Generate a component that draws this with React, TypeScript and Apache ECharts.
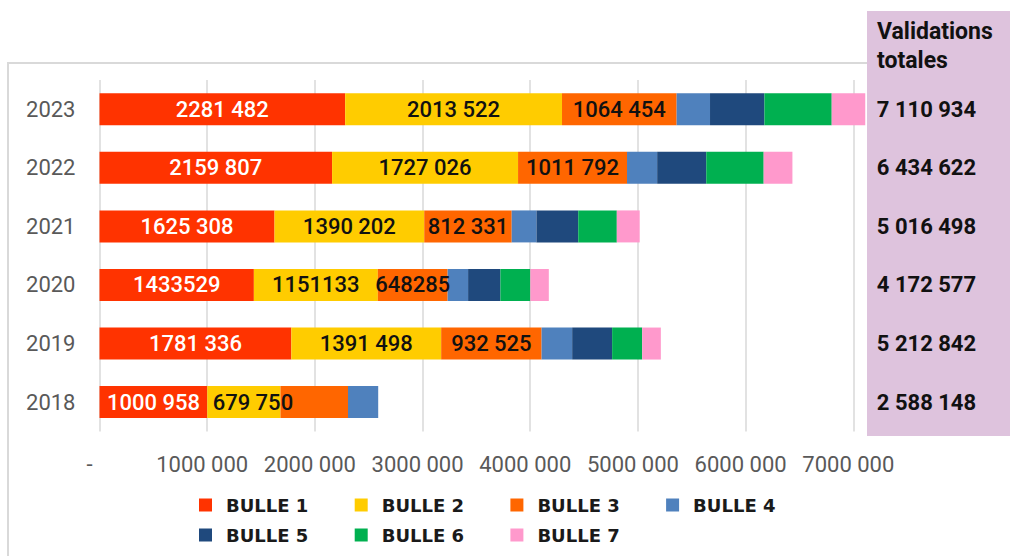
import React, { useEffect, useRef } from "react";
import * as echarts from "echarts";

const years = ["2018", "2019", "2020", "2021", "2022", "2023"];
const seriesNames = ["BULLE 1", "BULLE 2", "BULLE 3", "BULLE 4", "BULLE 5", "BULLE 6", "BULLE 7"];
const bulle1 = [1000958, 1781336, 1433529, 1625308, 2159807, 2281482];
const bulle2 = [679750, 1391498, 1151133, 1390202, 1727026, 2013522];
const bulle3 = [627000, 932525, 648285, 812331, 1011792, 1064454];
const bulle4 = [280440, 284000, 190000, 230000, 280000, 310000];
const bulle5 = [null, 371000, 300000, 388000, 456000, 505000];
const bulle6 = [null, 279000, 278000, 358000, 533000, 625000];
const bulle7 = [null, 173483, 171630, 212657, 266997, 311476];
const totals = [2588148, 5212842, 4172577, 5016498, 6434622, 7110934];
const xTickLabels = ["-", "1000 000", "2000 000", "3000 000", "4000 000", "5000 000", "6000 000", "7000 000"];
const colors = ["#FF3300", "#FFCC00", "#FF6600", "#4F81BD", "#1F497D", "#00B050", "#FF99CC"];
const panelTitle = ["Validations", "totales"];

const allSeries = [bulle1, bulle2, bulle3, bulle4, bulle5, bulle6, bulle7];
const labelledSeries = 3;

function fmtLabel(v: number, year: string): string {
  const s = String(v);
  if (year === "2020") return s;
  return s.replace(/(\d)(\d{3})$/, "$1 $2");
}
function fmtTotal(v: number): string {
  return String(v).replace(/\B(?=(\d{3})+(?!\d))/g, " ");
}

export default function App() {
  const ref = useRef<HTMLDivElement>(null);
  useEffect(() => {
    if (!ref.current) return;
    const chart = echarts.init(ref.current, null, { renderer: "svg" });
    const font = "Roboto, 'Noto Sans', sans-serif";
    const series = allSeries.map((data, si) => ({
      name: seriesNames[si],
      type: "bar",
      stack: "total",
      barWidth: 32,
      clip: false,
      itemStyle: { color: colors[si] },
      data: data.map((v, i) => {
        if (si === 1 && years[i] === "2018") {
          return { value: v, label: { offset: [9, 0] } };
        }
        return v;
      }),
      label: {
        show: si < labelledSeries,
        position: "inside",
        fontFamily: font,
        fontSize: 22,
        fontWeight: 500,
        color: si === 0 ? "#ffffff" : "#111111",
        formatter: (p: any) => {
          if (si === 2 && p.name === "2018") return "";
          return fmtLabel(p.value, p.name);
        },
      },
      emphasis: { disabled: true },
    }));
    const legends = seriesNames.map((name, i) => ({
      left: 194 + (i % 4) * 155.7,
      top: i < 4 ? 491 : 521,
      itemWidth: 13,
      itemHeight: 13,
      icon: "rect",
      selectedMode: false,
      data: [name],
      formatter: (n: string) => "{a|" + n + "}",
      textStyle: {
        rich: {
          a: {
            fontFamily: "'DejaVu Sans', sans-serif",
            fontSize: 18,
            fontWeight: "bold",
            color: "#1a1a1a",
            padding: [0, 0, 0, 9],
          },
        },
      },
    }));
    chart.setOption({
      animation: false,
      backgroundColor: "#ffffff",
      grid: { left: 99.5, right: 156.7, top: 80, bottom: 124.6, containLabel: false },
      legend: legends,
      xAxis: {
        type: "value",
        min: 0,
        max: 7000000,
        interval: 1000000,
        axisLine: { show: false },
        axisTick: { show: false },
        splitLine: { show: true, lineStyle: { color: "#d9d9d9", width: 1.5 } },
        axisLabel: {
          margin: 22,
          fontFamily: font,
          fontSize: 22,
          color: "#595959",
          padding: [0, 10, 0, 0],
          formatter: (v: number) => {
            const idx = Math.round(v / 1000000);
            return idx === 0 ? "{d|" + xTickLabels[0] + "}" : xTickLabels[idx];
          },
          rich: {
            d: {
              fontFamily: font,
              fontSize: 22,
              color: "#595959",
              padding: [0, 10, 0, 0],
            },
          },
        },
      },
      yAxis: [
        {
          type: "category",
          data: years,
          axisLine: { show: false },
          axisTick: { show: false },
          axisLabel: { margin: 24, fontFamily: font, fontSize: 22, color: "#595959" },
        },
        {
          type: "category",
          position: "right",
          z: 10,
          data: years,
          axisLine: { show: false },
          axisTick: { show: false },
          splitLine: { show: false },
          axisLabel: {
            show: true,
            margin: 23.5,
            fontFamily: font,
            fontSize: 22,
            fontWeight: "bold",
            color: "#111111",
            formatter: (_v: string, i: number) => fmtTotal(totals[i]),
          },
        },
      ],
      graphic: [
        {
          type: "rect",
          z: -11,
          silent: true,
          shape: { x: 8, y: 63, width: 1200, height: 700 },
          style: { fill: "none", stroke: "#d9d9d9", lineWidth: 2 },
        },
        {
          type: "rect",
          z: -10,
          silent: true,
          shape: { x: 867, y: 11, width: 143, height: 425 },
          style: { fill: "#dec3dd" },
        },
        {
          type: "text",
          z: 5,
          x: 877,
          y: 31,
          style: {
            text: panelTitle[0],
            font: "bold 23px " + font,
            fill: "#111111",
            verticalAlign: "middle",
          },
        },
        {
          type: "text",
          z: 5,
          x: 877,
          y: 60,
          style: {
            text: panelTitle[1],
            font: "bold 23px " + font,
            fill: "#111111",
            verticalAlign: "middle",
          },
        },
      ],
      series,
    });
    return () => chart.dispose();
  }, []);
  return (
    <div
      ref={ref}
      style={{ position: "fixed", left: 0, top: 0, width: 1010, height: 556 }}
    />
  );
}
